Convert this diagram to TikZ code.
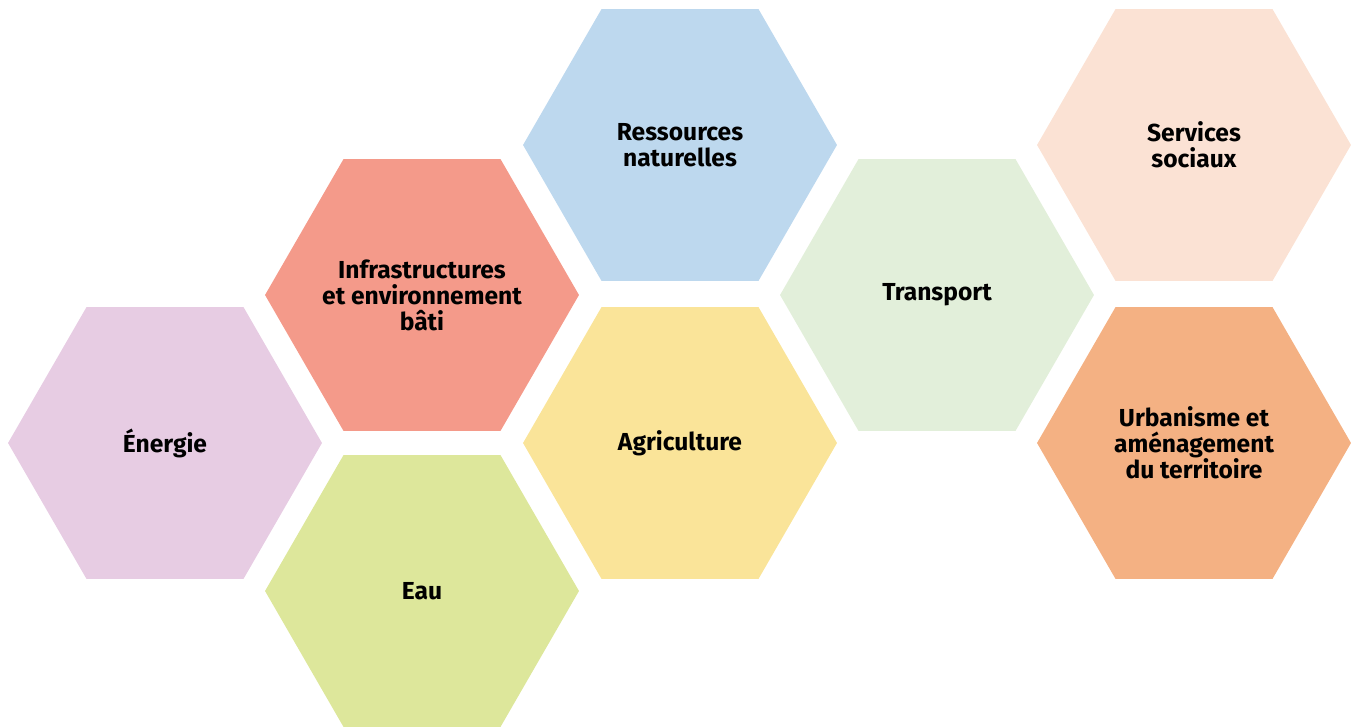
\documentclass[tikz,border=0pt]{standalone}
\usepackage{fontspec}
\setmainfont{Fira Sans}
\usepackage{xcolor}
\usepackage{tikz}
\usetikzlibrary{shapes.geometric}

\definecolor{energiec}{HTML}{E7CCE3}
\definecolor{infrac}{HTML}{F49A8A}
\definecolor{eauc}{HTML}{DDE79B}
\definecolor{ressc}{HTML}{BDD8EE}
\definecolor{agric}{HTML}{FAE499}
\definecolor{transpc}{HTML}{E2EFDA}
\definecolor{servc}{HTML}{FBE2D4}
\definecolor{urbac}{HTML}{F4B183}

\tikzset{
  hexa/.style={regular polygon, regular polygon sides=6, minimum size=6.28cm,
    inner sep=0pt, fill=#1},
  hexalabel/.style={align=center, font=\fontsize{14}{14.8}\selectfont\bfseries}
}

\begin{document}
\begin{tikzpicture}[x=0.02cm, y=-0.02cm]

\useasboundingbox (0,0) rectangle (1354,726);

\node[hexa=energiec, label={[hexalabel]center:Énergie}] (energie) at (165,443) {};
\node[hexa=infrac, label={[hexalabel]center:Infrastructures\\et environnement\\bâti}] (infra) at (422,295) {};
\node[hexa=eauc, label={[hexalabel]center:Eau}] (eau) at (422,591) {};
\node[hexa=ressc, label={[hexalabel]center:Ressources\\naturelles}] (ress) at (680,145) {};
\node[hexa=agric, label={[hexalabel]center:Agriculture}] (agri) at (680,443) {};
\node[hexa=transpc, label={[hexalabel]center:Transport}] (transp) at (937,295) {};
\node[hexa=servc, label={[hexalabel]center:Services\\sociaux}] (serv) at (1194,145) {};
\node[hexa=urbac, label={[hexalabel]center:Urbanisme et\\aménagement\\du territoire}] (urba) at (1194,443) {};

\end{tikzpicture}
\end{document}
